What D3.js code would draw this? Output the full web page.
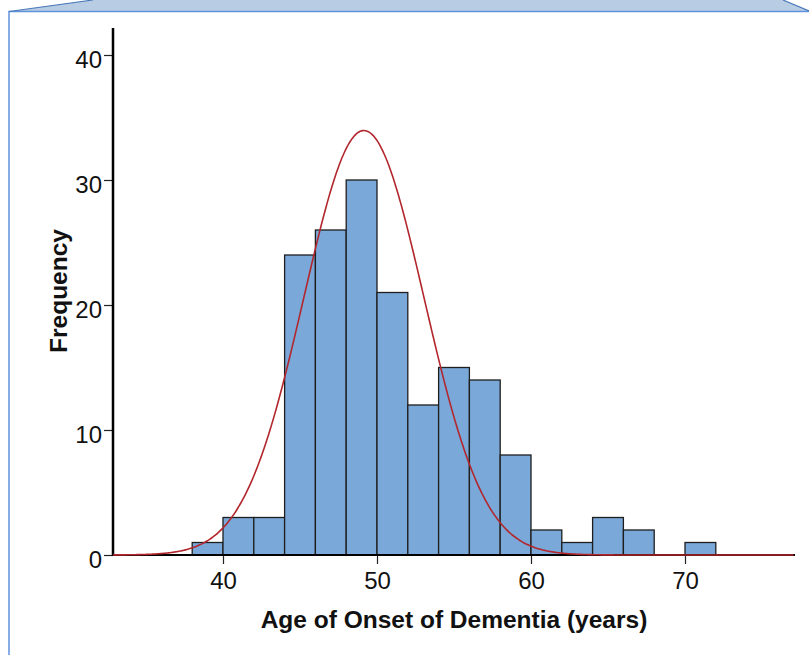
<!DOCTYPE html>
<html>
<head>
<meta charset="utf-8">
<script src="https://cdn.jsdelivr.net/npm/d3@7"></script>
<style>
  html, body { margin: 0; padding: 0; background: #fff; }
  svg { display: block; }
</style>
</head>
<body>
<svg id="chart" width="809" height="655"></svg>
<script>
// Histogram bins: lower edge of each 2-year bin and its count
const binStarts = [38, 40, 42, 44, 46, 48, 50, 52, 54, 56, 58, 60, 62, 64, 66, 68, 70];
const binCounts = [1, 3, 3, 24, 26, 30, 21, 12, 15, 14, 8, 2, 1, 3, 2, 0, 1];
const binWidth = 2;

// Fitted normal curve parameters
const curveMean = 49.15;
const curveSD = 3.9;

const xTicks = [40, 50, 60, 70];
const yTicks = [0, 10, 20, 30, 40];

const xTitle = "Age of Onset of Dementia (years)";
const yTitle = "Frequency";

const FONT = "Liberation Sans, Arial, sans-serif";
const svg = d3.select("#chart");

// Panel frame: shaded band at the top and a blue border
svg.append("path")
  .attr("d", "M9,11.5 L93,0 L783,0 L809,11 L809,11.5 Z")
  .attr("fill", "#b8cce4");
svg.append("path")
  .attr("d", "M9,655 L9,11.5 L809,11.5")
  .attr("fill", "none").attr("stroke", "#5f93dc").attr("stroke-width", 1.5);
svg.append("path")
  .attr("d", "M9,11.5 L93,0 M783,0 L809,11")
  .attr("fill", "none").attr("stroke", "#4a79b8").attr("stroke-width", 1.2);

const x0 = 113, yBase = 555;
const x = d3.scaleLinear().domain([40, 70]).range([223, 685]);
const y = d3.scaleLinear().domain([0, 40]).range([yBase, 55]);
const xMin = x.invert(x0), xMax = x.invert(795);
const yMax = y.invert(28);

// Bars
const bins = binStarts.map((s, i) => ({ s, c: binCounts[i] })).filter(d => d.c > 0);
svg.append("g").selectAll("rect").data(bins).join("rect")
  .attr("x", d => x(d.s))
  .attr("y", d => y(d.c))
  .attr("width", d => x(d.s + binWidth) - x(d.s))
  .attr("height", d => y(0) - y(d.c))
  .attr("fill", "#7aa8d8")
  .attr("stroke", "#1e1e1e")
  .attr("stroke-width", 1.3);

// Axes
const xAxis = d3.axisBottom(x).tickValues(xTicks).tickSize(9).tickPadding(8).tickFormat(d3.format("d"));
const gx = svg.append("g").attr("transform", `translate(0,${yBase})`).call(xAxis)
  .attr("font-size", null).attr("font-family", null);
gx.select(".domain").remove();
gx.append("line").attr("x1", x0).attr("x2", 795).attr("y1", 0).attr("y2", 0)
  .attr("stroke", "#000").attr("stroke-width", 2);
gx.selectAll(".tick line").attr("stroke", "#222").attr("stroke-width", 1.2);
gx.selectAll(".tick text")
  .style("font-family", FONT).style("font-size", "24px").attr("fill", "#111");

const yAxis = d3.axisLeft(y).tickValues(yTicks).tickSize(9).tickPadding(2).tickFormat(d3.format("d"));
const gy = svg.append("g").attr("transform", `translate(${x0},0)`).call(yAxis)
  .attr("font-size", null).attr("font-family", null);
gy.select(".domain").remove();
gy.append("line").attr("x1", 0).attr("x2", 0).attr("y1", y(yMax)).attr("y2", yBase + 1)
  .attr("stroke", "#000").attr("stroke-width", 2.5);
gy.selectAll(".tick line").attr("stroke", "#222").attr("stroke-width", 1.2);
gy.selectAll(".tick text")
  .attr("dy", "0.52em")
  .style("font-family", FONT).style("font-size", "24px").attr("fill", "#111");

// Normal curve scaled to the histogram counts, drawn over the baseline
const total = d3.sum(binCounts);
const pdf = v => total * binWidth / (curveSD * Math.sqrt(2 * Math.PI)) *
  Math.exp(-0.5 * Math.pow((v - curveMean) / curveSD, 2));
const pts = d3.range(xMin, xMax + 0.001, 0.1);
svg.append("path")
  .datum(pts)
  .attr("d", d3.line().x(v => x(v)).y(v => y(pdf(v))).curve(d3.curveBasis))
  .attr("fill", "none")
  .attr("stroke", "#b2272d")
  .attr("stroke-width", 1.6);

// Axis titles
svg.append("text")
  .attr("x", 454).attr("y", 628)
  .attr("text-anchor", "middle")
  .style("font-family", FONT).style("font-weight", "bold").style("font-size", "24.5px")
  .attr("fill", "#111")
  .text(xTitle);
svg.append("text")
  .attr("transform", "translate(67,291) rotate(-90)")
  .attr("text-anchor", "middle")
  .style("font-family", FONT).style("font-weight", "bold").style("font-size", "24.5px")
  .attr("fill", "#111")
  .text(yTitle);
</script>
</body>
</html>
